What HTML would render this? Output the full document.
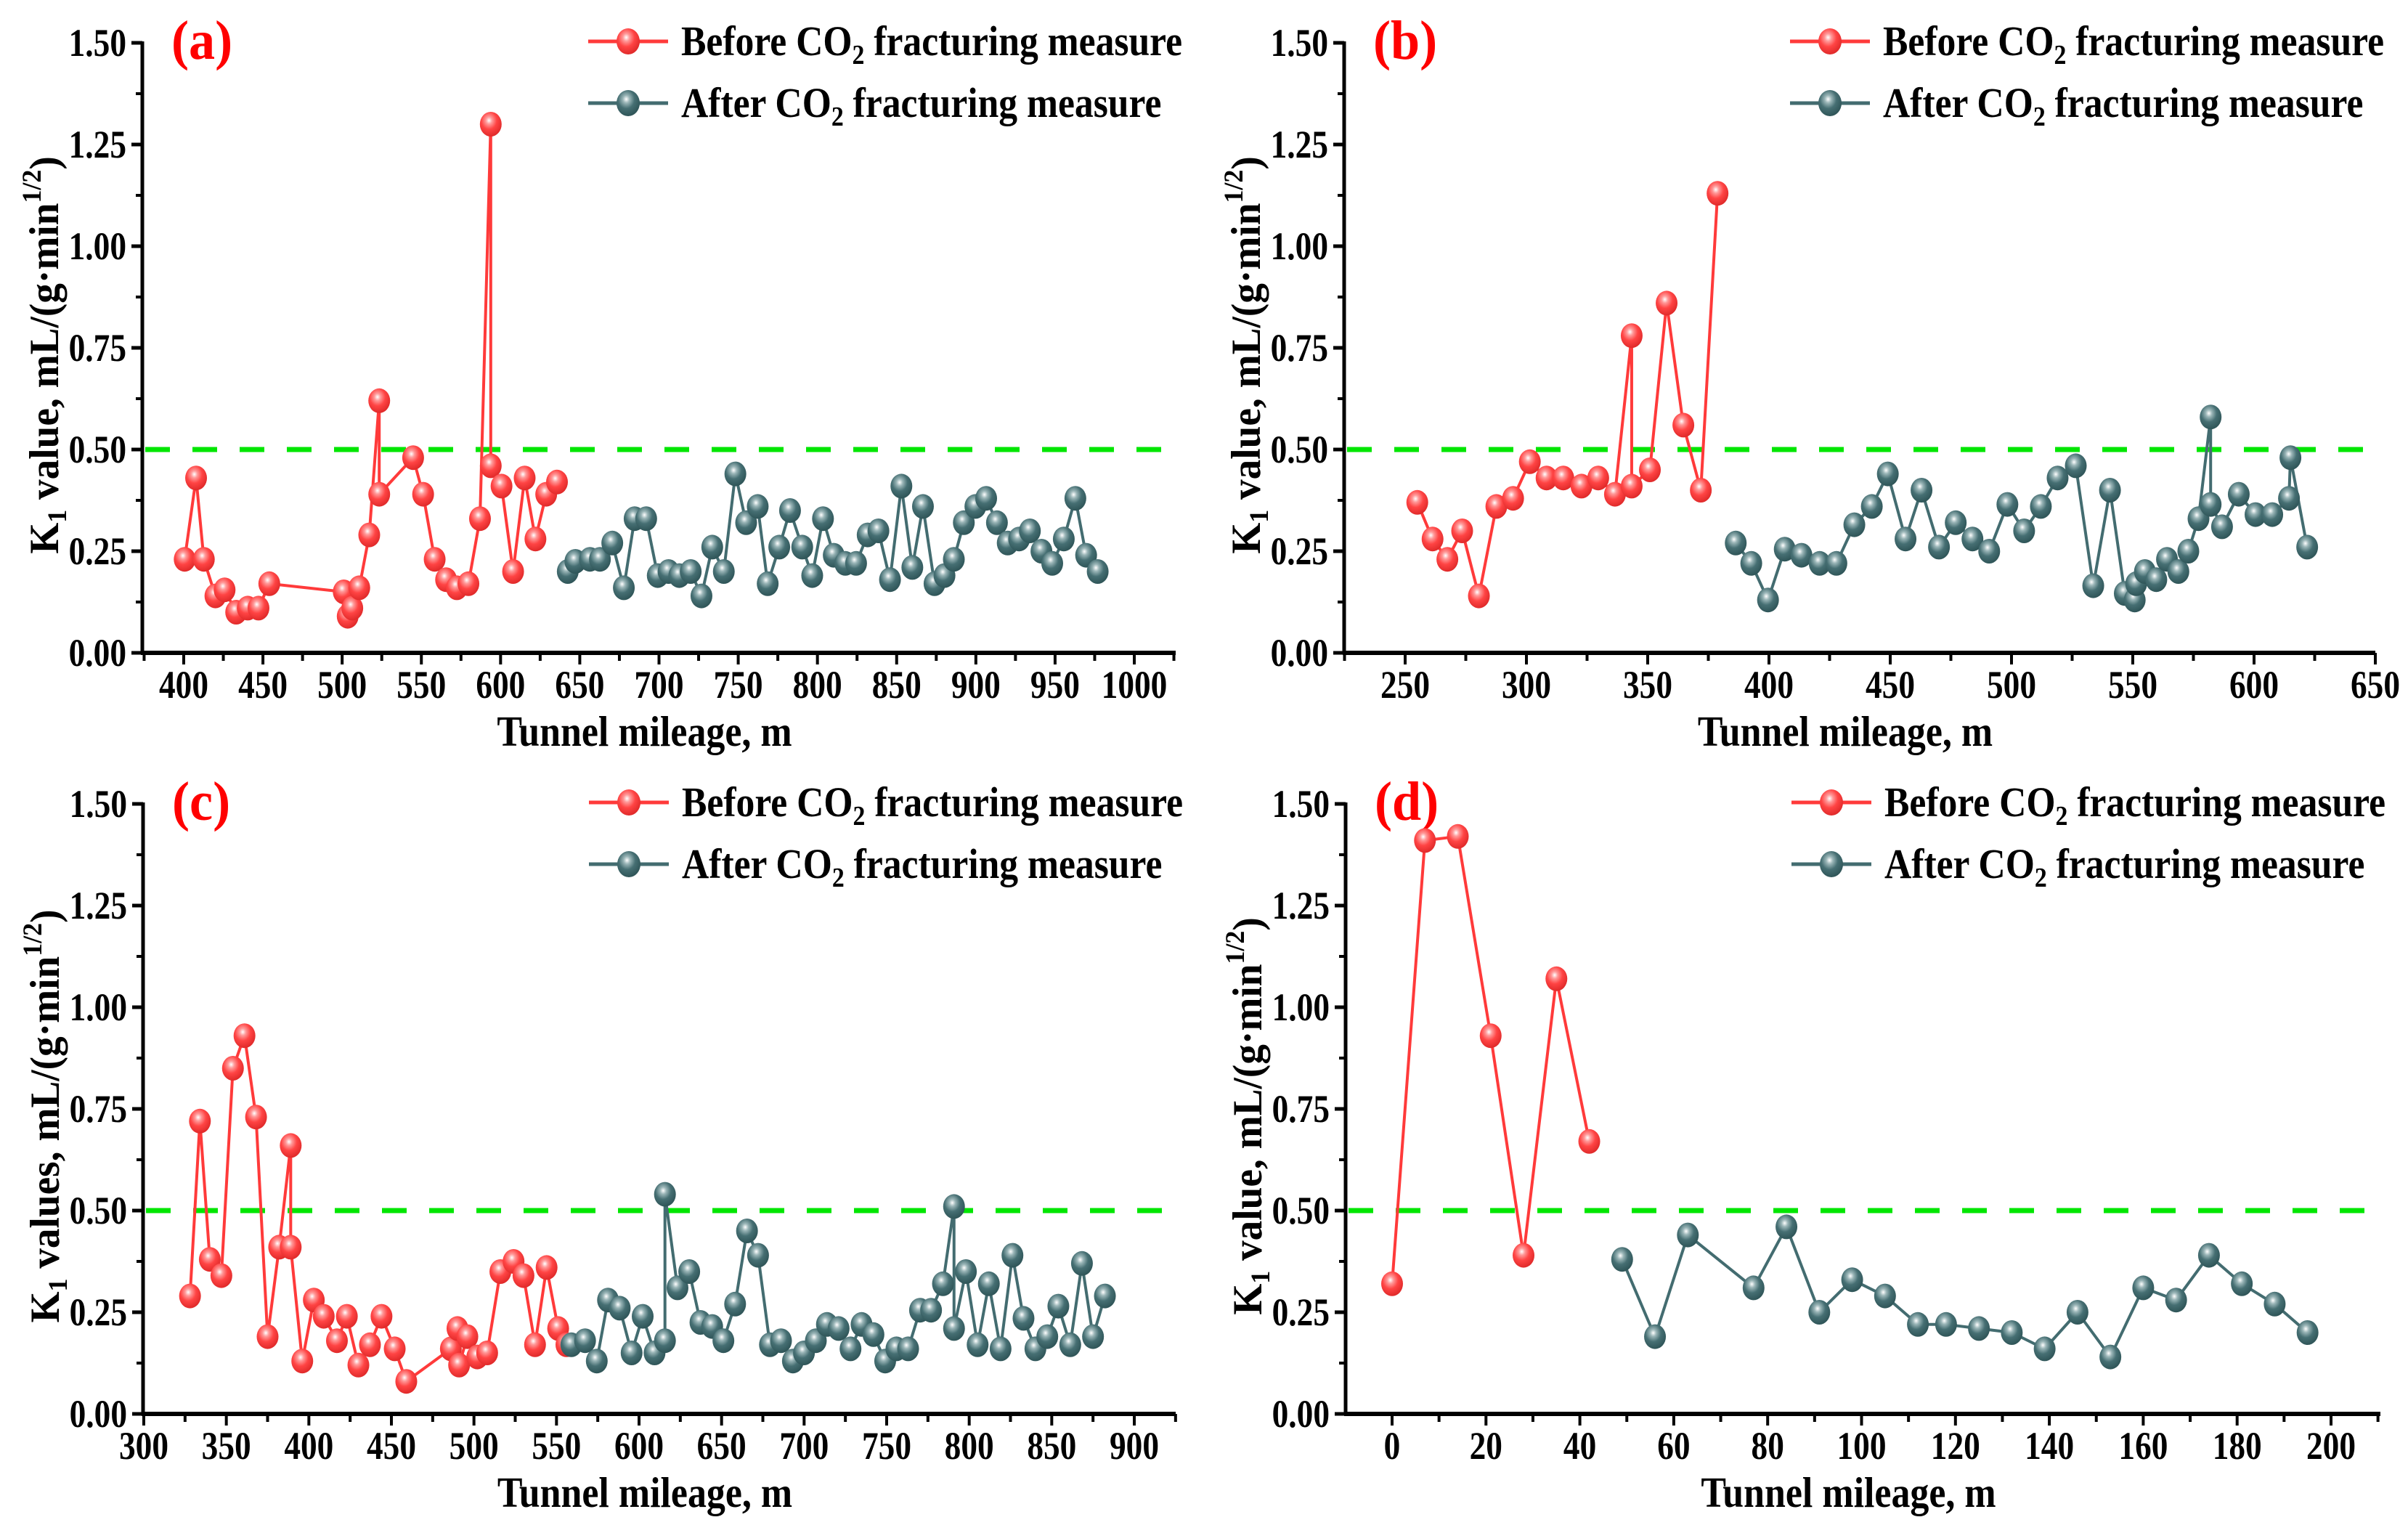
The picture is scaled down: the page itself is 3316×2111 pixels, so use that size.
<!DOCTYPE html>
<html><head><meta charset="utf-8">
<style>
html,body{margin:0;padding:0;background:#fff;}
svg{display:block;}
text{font-family:"Liberation Serif","Times New Roman",serif;font-weight:bold;}
</style></head>
<body>
<svg id="fig" width="3316" height="2111" viewBox="0 0 3316 2111" xmlns="http://www.w3.org/2000/svg">
<defs>
<radialGradient id="gRed" cx="0.42" cy="0.35" r="0.65">
<stop offset="0" stop-color="#ffffff"/><stop offset="0.22" stop-color="#ff9a9a"/><stop offset="0.55" stop-color="#ff4444"/><stop offset="1" stop-color="#e02a2a"/>
</radialGradient>
<radialGradient id="gGreen" cx="0.42" cy="0.35" r="0.65">
<stop offset="0" stop-color="#ffffff"/><stop offset="0.22" stop-color="#9bb6b8"/><stop offset="0.55" stop-color="#466f73"/><stop offset="1" stop-color="#2f5558"/>
</radialGradient>
</defs>
</svg>
<script>
// ---------- Panel (a) data ----------
const aBeforeX = [400.6,407.8,412.7,420,425.8,433.1,440.4,447.2,454,501,503.5,506.4,510.8,517.1,523.4,523.4,544.8,551.1,558.4,565.6,572.4,579.7,587,593.8,593.8,600.6,607.9,615.2,622,628.8,635.6];
const aBeforeY = [0.23,0.43,0.23,0.14,0.155,0.10,0.11,0.11,0.17,0.15,0.09,0.11,0.16,0.29,0.62,0.39,0.48,0.39,0.23,0.18,0.16,0.17,0.33,1.30,0.46,0.41,0.20,0.43,0.28,0.39,0.42];
const aAfterX = [642.4,647.2,656.4,662.7,670.5,677.8,684.6,691.9,699.2,706,712.8,720,726.8,733.6,740.9,748.2,755,762.3,768.6,775.9,782.7,790.4,796.7,803.5,810.3,817.6,824.4,831.7,838.5,845.8,853,859.9,866.6,873.9,880.2,886.1,892.4,899.7,906.5,913.3,920.1,927.3,934.1,941.4,948.2,955.5,962.8,969.6,976.9];
const aAfterY = [0.20,0.225,0.23,0.23,0.27,0.16,0.33,0.33,0.19,0.20,0.19,0.20,0.14,0.26,0.20,0.44,0.32,0.36,0.17,0.26,0.35,0.26,0.19,0.33,0.24,0.22,0.22,0.29,0.30,0.18,0.41,0.21,0.36,0.17,0.19,0.23,0.32,0.36,0.38,0.32,0.27,0.28,0.30,0.25,0.22,0.28,0.38,0.24,0.20];
const aTicks = [400,450,500,550,600,650,700,750,800,850,900,950,1000];
// ---------- Panel (b) data ----------
const bBeforeX = [255,261.3,267.4,273.5,280.4,287.6,294.5,301.4,308.3,315.2,322.7,329.6,336.5,343.4,343.4,350.9,357.8,364.7,371.9,378.8];
const bBeforeY = [0.37,0.28,0.23,0.30,0.14,0.36,0.38,0.47,0.43,0.43,0.41,0.43,0.39,0.78,0.41,0.45,0.86,0.56,0.40,1.13];
const bAfterX = [386.3,392.7,399.6,406.5,413.4,420.9,427.8,435.2,442.4,449,456.3,462.9,470.1,477,483.9,490.8,498.3,505.2,512.1,519,526.5,533.7,540.6,546.7,550.8,551.4,555,559.7,564.1,568.8,572.9,577.1,582.1,582.1,586.8,593.7,600.6,607.5,614.4,615,621.9];
const bAfterY = [0.27,0.22,0.13,0.255,0.24,0.22,0.22,0.315,0.36,0.44,0.28,0.40,0.26,0.32,0.28,0.25,0.365,0.30,0.36,0.43,0.46,0.165,0.40,0.146,0.13,0.17,0.20,0.18,0.23,0.20,0.25,0.33,0.58,0.365,0.31,0.39,0.34,0.34,0.38,0.48,0.26];
const bTicks = [250,300,350,400,450,500,550,600,650];
// ---------- Panel (c) data ----------
const cBeforeX = [328,334,340,347,354,361,368,375,382,389,389,396,403,409,417,423,430,437,444,452,459,486,490,491,496,502,508,516,524,530,537,544,551,556];
const cBeforeY = [0.29,0.72,0.38,0.34,0.85,0.93,0.73,0.19,0.41,0.66,0.41,0.13,0.28,0.24,0.18,0.24,0.12,0.17,0.24,0.16,0.08,0.16,0.21,0.12,0.19,0.14,0.15,0.35,0.375,0.34,0.17,0.36,0.21,0.17];
const cAfterX = [559,567.3,574.4,581.2,588.3,595.5,602.2,609.4,615.7,615.7,623.3,630.4,637.2,644.3,651.1,658.2,665.4,672.1,679.3,686,693.2,699.9,707.1,713.8,720.9,728.1,734.8,742,749.1,755.9,763,770.2,776.9,784.1,790.8,790.8,798,805.1,811.9,819,826.2,832.9,840.1,847.3,854,861.2,868.3,875,882.2];
const cAfterY = [0.17,0.18,0.13,0.28,0.26,0.15,0.24,0.15,0.18,0.54,0.31,0.35,0.225,0.215,0.18,0.27,0.45,0.39,0.17,0.18,0.13,0.15,0.18,0.22,0.21,0.16,0.22,0.195,0.13,0.16,0.16,0.255,0.255,0.32,0.51,0.21,0.35,0.17,0.32,0.16,0.39,0.235,0.16,0.19,0.265,0.17,0.37,0.19,0.29];
const cTicks = [300,350,400,450,500,550,600,650,700,750,800,850,900];
// ---------- Panel (d) data ----------
const dBeforeX = [0,7,14,21,28,35,42];
const dBeforeY = [0.32,1.41,1.42,0.93,0.39,1.07,0.67];
const dAfterX = [49,56,63,77,84,91,98,105,112,118,125,132,139,146,153,160,167,174,181,188,195];
const dAfterY = [0.38,0.19,0.44,0.31,0.46,0.25,0.33,0.29,0.22,0.22,0.21,0.20,0.16,0.25,0.14,0.31,0.28,0.39,0.32,0.27,0.20];
const dTicks = [0,20,40,60,80,100,120,140,160,180,200];
const yTicks = [0,0.25,0.5,0.75,1.0,1.25,1.5];
const threshold = 0.5;

const NS = "http://www.w3.org/2000/svg";
const svg = document.getElementById('fig');
function mk(tag, attrs, parent){ const e=document.createElementNS(NS,tag); for(const k in attrs) e.setAttribute(k,attrs[k]); (parent||svg).appendChild(e); return e; }
function ctext(x, y, sx, attrs, parent){
  attrs.x = 0; attrs.y = 0;
  attrs.transform = `translate(${x},${y}) scale(${sx},1)`;
  return mk('text', attrs, parent);
}

const panels = [
 {id:'a', label:'(a)', calib:[196,1619,400,253,1000,1562], yz:899, yt:59, ticks:aTicks, minor:25, bx:aBeforeX, by:aBeforeY, ax:aAfterX, ay:aAfterY, titleRest:' value, mL/(g·min'},
 {id:'b', label:'(b)', calib:[1851,3271,250,1935,650,3271], yz:899, yt:59, ticks:bTicks, minor:25, bx:bBeforeX, by:bBeforeY, ax:bAfterX, ay:bAfterY, titleRest:' value, mL/(g·min'},
 {id:'c', label:'(c)', calib:[197,1619,300,198,900,1562], yz:1947, yt:1107, ticks:cTicks, minor:25, bx:cBeforeX, by:cBeforeY, ax:cAfterX, ay:cAfterY, titleRest:' values, mL/(g·min'},
 {id:'d', label:'(d)', calib:[1853,3278,0,1917,200,3210], yz:1947, yt:1107, ticks:dTicks, minor:10, bx:dBeforeX, by:dBeforeY, ax:dAfterX, ay:dAfterY, titleRest:' value, mL/(g·min'}
];

panels.forEach(p=>{
  const [L,R,v0,p0,v1,p1] = p.calib;
  const sx = v => p0 + (v - v0) * (p1 - p0) / (v1 - v0);
  const sy = v => p.yz - v * (p.yz - p.yt) / 1.5;
  const g = mk('g',{});
  
  

  const th = mk('line',{x1:L+4,x2:R,y1:sy(threshold),y2:sy(threshold),stroke:'#00e600','stroke-width':7,'stroke-dasharray':'34 31'},g);
  
  

  const yax = mk('line',{x1:L,x2:L,y1:p.yt-2,y2:p.yz+2,stroke:'#000','stroke-width':5},g);
  
  
  const xax = mk('line',{x1:L-2,x2:R,y1:p.yz,y2:p.yz,stroke:'#000','stroke-width':6},g);
  
  

  yTicks.forEach((t,i)=>{
    mk('line',{x1:L-15,x2:L,y1:sy(t),y2:sy(t),stroke:'#000','stroke-width':5},g);
    if(i<yTicks.length-1) mk('line',{x1:L-9,x2:L,y1:sy(t+0.125),y2:sy(t+0.125),stroke:'#000','stroke-width':4},g);
    const tl = ctext(L-22, sy(t)+18, 0.84, {'text-anchor':'end','font-size':54,fill:'#000'}, g);
    tl.textContent = t.toFixed(2);
    
    
  });
  const tmin = v0 + (L - p0) * (v1 - v0) / (p1 - p0);
  const tmax = v0 + (R - p0) * (v1 - v0) / (p1 - p0);
  for(let v = Math.ceil(tmin/p.minor)*p.minor; v <= tmax+0.01; v += p.minor){
    const major = p.ticks.includes(v);
    mk('line',{x1:sx(v),x2:sx(v),y1:p.yz,y2:p.yz+(major?16:11),stroke:'#000','stroke-width':4},g);
  }
  p.ticks.forEach(t=>{
    const tl = ctext(sx(t), p.yz+62, 0.84, {'text-anchor':'middle','font-size':54,fill:'#000'}, g);
    tl.textContent = String(t);
    
    
  });
  const xt = ctext((L+R)/2-20, p.yz+128, 0.88, {'text-anchor':'middle','font-size':59,fill:'#000'}, g);
  xt.textContent = 'Tunnel mileage, m';
  
  

  const cy = (p.yz + p.yt)/2 + 10;
  const yt = mk('text',{x:0,y:0,'text-anchor':'middle','font-size':57,fill:'#000',transform:`translate(${L-116},${cy}) rotate(-90) scale(0.97,1)`},g);
  
  
  const t1 = mk('tspan',{},yt); t1.textContent = 'K';
  const t2 = mk('tspan',{'font-size':37,dy:11},yt); t2.textContent = '1';
  const t3 = mk('tspan',{dy:-11},yt); t3.textContent = p.titleRest;
  const t4 = mk('tspan',{'font-size':37,dy:-24},yt); t4.textContent = '1/2';
  const t5 = mk('tspan',{dy:24},yt); t5.textContent = ')';

  const pl = ctext(L+40, p.yt+22, 0.95, {'font-size':76,fill:'#ff0000'}, g);
  pl.textContent = p.label;
  
  

  const series = [
    {xs:p.bx, ys:p.by, color:'#ff3a3a', grad:'url(#gRed)', name:'before-series'},
    {xs:p.ax, ys:p.ay, color:'#436c70', grad:'url(#gGreen)', name:'after-series'}
  ];
  series.forEach(s=>{
    const pts = s.xs.map((x,i)=>sx(x)+','+sy(s.ys[i])).join(' ');
    const pl2 = mk('polyline',{points:pts,fill:'none',stroke:s.color,'stroke-width':4,'stroke-linejoin':'round'},g);
    
    
    s.xs.forEach((x,i)=>{
      const c = mk('ellipse',{cx:sx(x),cy:sy(s.ys[i]),rx:15,ry:17,fill:s.grad},g);
      
      
    });
  });

  const lx = L + 614;
  [['Before CO','#ff3a3a','url(#gRed)',57,'legend-before'],['After CO','#436c70','url(#gGreen)',142,'legend-after']].forEach(e=>{
    const lg = mk('g',{},g);
    
    
    const ly = p.yt - 59 + e[3];
    mk('line',{x1:lx,x2:lx+110,y1:ly,y2:ly,stroke:e[1],'stroke-width':5},lg);
    mk('ellipse',{cx:lx+55,cy:ly,rx:16,ry:18,fill:e[2]},lg);
    const tx = ctext(lx+128, ly+19, 0.89, {'font-size':58,fill:'#000'}, lg);
    const a1 = mk('tspan',{},tx); a1.textContent = e[0];
    const a2 = mk('tspan',{'font-size':38,dy:12},tx); a2.textContent = '2';
    const a3 = mk('tspan',{dy:-12},tx); a3.textContent = ' fracturing measure';
  });
});
</script>
</body></html>
